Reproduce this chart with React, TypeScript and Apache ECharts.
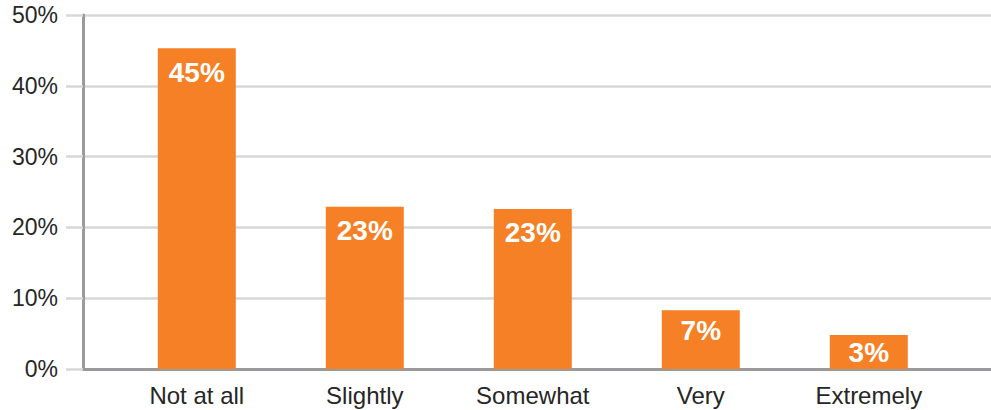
import React, { useEffect, useRef } from "react";
import * as echarts from "echarts";

const categories = ["Not at all", "Slightly", "Somewhat", "Very", "Extremely"];
const values = [45.3, 22.9, 22.6, 8.3, 4.8];
const barLabels = ["45%", "23%", "23%", "7%", "3%"];
const yTicks = [0, 10, 20, 30, 40, 50];

export default function App() {
  const ref = useRef<HTMLDivElement>(null);
  useEffect(() => {
    if (!ref.current) return;
    const chart = echarts.init(ref.current, null, { renderer: "svg" });
    const font = "'Liberation Sans', Arial, Helvetica, sans-serif";
    const labelPos = (i: number) =>
      i === 4
        ? { position: "inside" }
        : i === 3
        ? { position: "insideTop", distance: 6 }
        : { position: "insideTop", distance: 10 };
    chart.setOption({
      animation: false,
      grid: [
        { left: 83, right: 0, top: 15, bottom: 41 },
        { left: 112.8, width: 840, top: 15, bottom: 41 },
      ],
      xAxis: [
        {
          type: "value",
          gridIndex: 0,
          min: 0,
          max: 1,
          axisLine: { show: true, onZero: false, lineStyle: { color: "#9a9a9c", width: 3 } },
          axisTick: { show: false },
          axisLabel: { show: false },
          splitLine: { show: false },
        },
        {
          type: "category",
          gridIndex: 1,
          data: categories,
          axisLine: { show: false },
          axisTick: { show: false },
          axisLabel: {
            color: "#262626",
            fontSize: 24,
            fontFamily: font,
            margin: 14,
          },
        },
      ],
      yAxis: [
        {
          type: "value",
          gridIndex: 0,
          min: yTicks[0],
          max: yTicks[yTicks.length - 1],
          interval: 10,
          axisLine: { show: true, lineStyle: { color: "#9a9a9c", width: 3 } },
          axisTick: { show: true, length: 17, lineStyle: { color: "#d7d7d9", width: 2.5 } },
          axisLabel: {
            formatter: "{value}%",
            color: "#262626",
            fontSize: 23,
            fontFamily: font,
            margin: 25,
          },
          splitLine: { show: true, lineStyle: { color: "#d7d7d9", width: 2.5 } },
        },
        {
          type: "value",
          gridIndex: 1,
          min: 0,
          max: 50,
          show: false,
          splitLine: { show: false },
        },
      ],
      series: [
        {
          type: "bar",
          xAxisIndex: 1,
          yAxisIndex: 1,
          barWidth: 78,
          itemStyle: { color: "#f58025" },
          data: values.map((v, i) => ({
            value: v,
            label: {
              show: true,
              formatter: barLabels[i],
              color: "#ffffff",
              fontWeight: "bold",
              fontSize: 28,
              fontFamily: font,
              ...labelPos(i),
            },
          })),
        },
      ],
    });
    return () => chart.dispose();
  }, []);
  return (
    <div
      ref={ref}
      style={{ position: "fixed", left: 0, top: 0, width: 991, height: 410, background: "#fff" }}
    />
  );
}
